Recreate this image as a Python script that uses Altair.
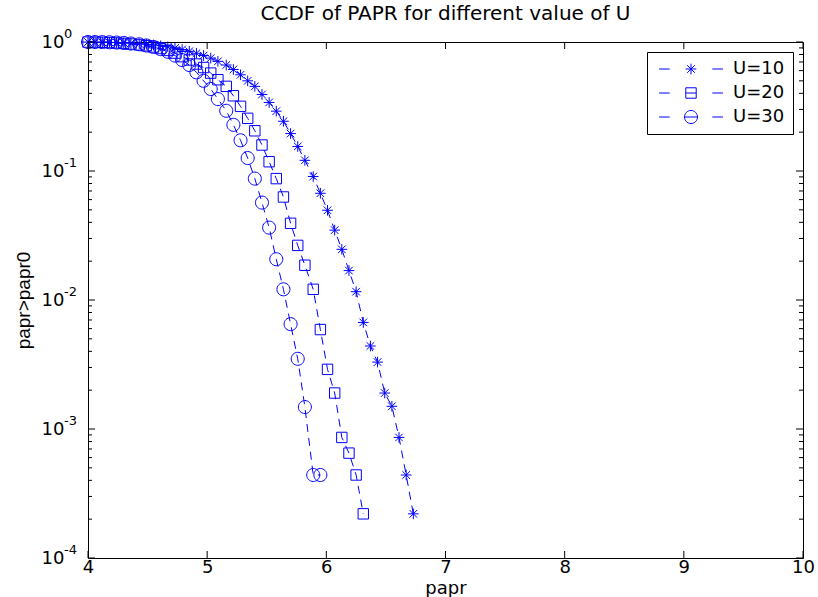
import math
import altair as alt
import pandas as pd

# ---------------- data ----------------
papr = [4.00, 4.06, 4.12, 4.18, 4.24, 4.30, 4.36, 4.43, 4.49, 4.55,
        4.61, 4.67, 4.73, 4.79, 4.85, 4.91, 4.97, 5.03, 5.09, 5.16,
        5.22, 5.28, 5.34, 5.40, 5.46, 5.52, 5.58, 5.64, 5.70, 5.76,
        5.82, 5.89, 5.95, 6.01, 6.07, 6.13, 6.19, 6.25, 6.31, 6.37,
        6.43, 6.49, 6.55, 6.61, 6.67, 6.73]

ccdf_u10 = [0.999, 0.998, 0.996, 0.993, 0.990, 0.985, 0.978, 0.970, 0.960, 0.948,
            0.935, 0.918, 0.898, 0.875, 0.848, 0.818, 0.785, 0.750, 0.708, 0.663,
            0.612, 0.557, 0.500, 0.453, 0.392, 0.340, 0.291, 0.243, 0.195, 0.155,
            0.121, 0.0906, 0.0672, 0.0496, 0.0348, 0.0247, 0.0169, 0.0116, 0.0067, 0.0044,
            0.0033, 0.0019, 0.0015, 0.00086, 0.00044, 0.00022]

ccdf_u20 = [0.999, 0.998, 0.995, 0.990, 0.983, 0.975, 0.965, 0.950, 0.935, 0.915,
            0.890, 0.860, 0.820, 0.770, 0.725, 0.675, 0.634, 0.574, 0.510, 0.453,
            0.383, 0.317, 0.256, 0.205, 0.159, 0.118, 0.0873, 0.0629, 0.0393, 0.0265,
            0.0186, 0.0121, 0.0059, 0.0029, 0.0019, 0.00086, 0.00065, 0.00044, 0.00022]

ccdf_u30 = [1.000, 0.999, 0.998, 0.995, 0.990, 0.983, 0.973, 0.960, 0.940, 0.915,
            0.880, 0.840, 0.785, 0.725, 0.663, 0.582, 0.500, 0.432, 0.361, 0.293,
            0.228, 0.173, 0.126, 0.0873, 0.0569, 0.0364, 0.0207, 0.0121, 0.0065, 0.0035,
            0.00148, 0.00044, 0.00044]

series_labels = ["U=10", "U=20", "U=30"]

x_ticks = [4, 5, 6, 7, 8, 9, 10]
y_ticks = [0.0001, 0.001, 0.01, 0.1, 1]
y_tick_base = "10"
y_tick_exponents = ["-4", "-3", "-2", "-1", "0"]
y_minor = [m * 10.0 ** e for e in range(-4, 0) for m in range(2, 10)]

title_text = "CCDF of PAPR for different value of U"
x_title = "papr"
y_title = "papr>papr0"

# ---------------- tables ----------------
rows = []
for lab, vals in zip(series_labels, [ccdf_u10, ccdf_u20, ccdf_u30]):
    for xv, yv in zip(papr, vals):
        rows.append({"papr": xv, "ccdf": yv, "U": lab})
df = pd.DataFrame(rows)

xt_df = pd.DataFrame({"papr": x_ticks})
yt_df = pd.DataFrame({"ccdf": y_ticks, "exp": y_tick_exponents})
ym_df = pd.DataFrame({"ccdf": y_minor})

BLUE = "#0000ff"
W, H = 715, 516

# marker paths (unit square scaled by sqrt(size)/2)
ast = "M-0.9,0L0.9,0M0,-0.9L0,0.9M-0.64,-0.64L0.64,0.64M-0.64,0.64L0.64,-0.64"
sq = "M-0.88,-0.88L0.88,-0.88L0.88,0.88L-0.88,0.88Z"
circ = "M1.1,0A1.1,1.1,0,1,1,-1.1,0A1.1,1.1,0,1,1,1.1,0Z"
dashes = "M-5.4,0L-3.6,0M3.6,0L5.4,0"
leg_paths = [dashes + ast,
             dashes + sq + "M-0.88,0L0.88,0",
             dashes + circ + "M-1.1,0L1.1,0"]

xscale = alt.Scale(domain=[4, 10], nice=False, zero=False)
yscale = alt.Scale(type="log", domain=[0.0001, 1], nice=False)

X = alt.X("papr:Q", scale=xscale,
          axis=alt.Axis(values=x_ticks, format="d", ticks=False, domain=False, grid=False,
                        title=x_title, labelFont="DejaVu Sans", labelFontSize=18,
                        labelPadding=0, labelColor="black", labelFlush=False,
                        titleFont="DejaVu Sans", titleFontSize=18, titleFontWeight="normal",
                        titleColor="black", titlePadding=3))
Y = alt.Y("ccdf:Q", scale=yscale,
          axis=alt.Axis(values=y_ticks, labelExpr=f"'{y_tick_base}'", ticks=False,
                        domain=False, grid=False, title=y_title, labelFont="DejaVu Sans",
                        labelFontSize=18, labelAlign="left", labelPadding=47,
                        labelColor="black", labelFlush=False,
                        titleFont="Liberation Sans", titleFontSize=19,
                        titleFontWeight="normal", titleColor="black", titlePadding=8))

lines = alt.Chart(df).mark_line(color=BLUE, strokeWidth=1, strokeDash=[8, 6]).encode(
    x=X, y=Y, detail="U:N")

points = alt.Chart(df).mark_point(color=BLUE, filled=False, strokeWidth=1, size=140,
                                  opacity=1).encode(
    x="papr:Q", y="ccdf:Q",
    shape=alt.Shape("U:N", scale=alt.Scale(domain=series_labels, range=[ast, sq, circ]),
                    legend=None))

legend_layer = alt.Chart(df).mark_point(color=BLUE, filled=False, strokeWidth=1, size=140,
                                        opacity=0).encode(
    x="papr:Q", y="ccdf:Q",
    shape=alt.Shape("U:N", scale=alt.Scale(domain=series_labels, range=leg_paths),
                    legend=alt.Legend(title=None, orient="top-right", offset=10, padding=8,
                                      strokeColor="black", fillColor="white",
                                      cornerRadius=0, symbolSize=140,
                                      symbolStrokeColor=BLUE, symbolFillColor="transparent",
                                      symbolOpacity=1, symbolStrokeWidth=1,
                                      symbolOffset=27, labelOffset=33, rowPadding=6,
                                      labelFont="DejaVu Sans", labelFontSize=18,
                                      labelColor="black")))

# superscript exponents of the log-axis tick labels
exps = alt.Chart(yt_df).mark_text(align="left", baseline="middle", dy=-8,
                                  font="DejaVu Sans", fontSize=13, color="black").encode(
    y="ccdf:Q", x=alt.value(-24), text="exp:N")

xt_bot = alt.Chart(xt_df).mark_rule(color="black", strokeWidth=1).encode(
    x="papr:Q", y=alt.value(H), y2=alt.value(H - 7))
xt_top = alt.Chart(xt_df).mark_rule(color="black", strokeWidth=1).encode(
    x="papr:Q", y=alt.value(0), y2=alt.value(7))
yt_left = alt.Chart(yt_df).mark_rule(color="black", strokeWidth=1).encode(
    y="ccdf:Q", x=alt.value(0), x2=alt.value(7))
yt_right = alt.Chart(yt_df).mark_rule(color="black", strokeWidth=1).encode(
    y="ccdf:Q", x=alt.value(W), x2=alt.value(W - 7))
ym_left = alt.Chart(ym_df).mark_rule(color="black", strokeWidth=1).encode(
    y="ccdf:Q", x=alt.value(0), x2=alt.value(4))
ym_right = alt.Chart(ym_df).mark_rule(color="black", strokeWidth=1).encode(
    y="ccdf:Q", x=alt.value(W), x2=alt.value(W - 4))

chart = alt.layer(lines, points, legend_layer, exps, xt_bot, xt_top, yt_left, yt_right,
                  ym_left, ym_right).resolve_scale(shape="independent").properties(
    width=W, height=H,
    padding={"left": 88, "top": 42, "right": 15, "bottom": 39},
    autosize=alt.AutoSizeParams(type="none"),
    title=alt.TitleParams(title_text, font="DejaVu Sans", fontSize=20,
                          fontWeight="normal", color="black", anchor="middle", offset=4),
    background="white",
).configure_view(stroke="black", strokeWidth=1)

chart.save("out.html", embed_options={"renderer": "svg", "actions": False})
